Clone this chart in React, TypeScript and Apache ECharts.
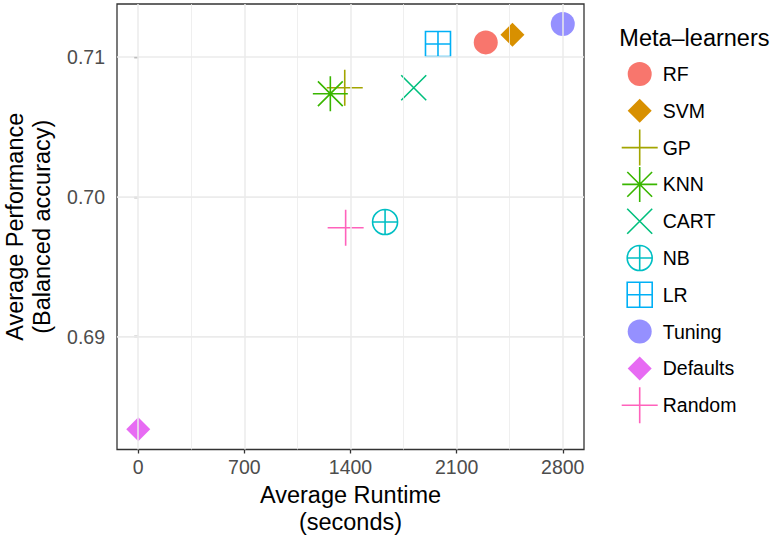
import React, { useEffect, useRef } from 'react';
import * as echarts from 'echarts';

// ---- data ----
const categories = ['RF', 'SVM', 'GP', 'KNN', 'CART', 'NB', 'LR', 'Tuning', 'Defaults', 'Random'];
const runtimes = [2292, 2468, 1362, 1267, 1817, 1628, 1977, 2800, 0, 1368];
const performances = [0.71104, 0.71159, 0.7078, 0.70737, 0.7078, 0.6982, 0.71092, 0.71235, 0.68338, 0.69779];
const xTicks = [0, 700, 1400, 2100, 2800];
const xMinor = [350, 1050, 1750, 2450];
const yTicks = [0.69, 0.7, 0.71];
const yMinor = [0.685, 0.695, 0.705];
const xRange = [-140, 2940];
const yRange = [0.681938, 0.713784];

// ---- styles ----
const colors = ['#F8766D', '#D89000', '#A3A500', '#39B600', '#00BF7D', '#00BFC4', '#00B0F6', '#9590FF', '#E76BF3', '#FF62BC'];
const P = 'M0 0M36 36';
const shapePaths: Record<string, string> = {
  circle: `${P}M30 18A12 12 0 1 1 6 18A12 12 0 1 1 30 18Z`,
  diamond: `${P}M18 6L30 18L18 30L6 18Z`,
  plus: `${P}M18 0L18 36M0 18L36 18`,
  asterisk: `${P}M18 0.5L18 35.5M0.5 18L35.5 18M5.6 5.6L30.4 30.4M30.4 5.6L5.6 30.4`,
  cross: `${P}M5.5 5.5L30.5 30.5M30.5 5.5L5.5 30.5`,
  circlePlus: `${P}M30.5 18A12.5 12.5 0 1 1 5.5 18A12.5 12.5 0 1 1 30.5 18M18 5.5L18 30.5M5.5 18L30.5 18`,
  squarePlus: `${P}M5.5 5.5L30.5 5.5L30.5 30.5L5.5 30.5ZM18 5.5L18 30.5M5.5 18L30.5 18`,
};
const shapes = ['circle', 'diamond', 'plus', 'asterisk', 'cross', 'circlePlus', 'squarePlus', 'circle', 'diamond', 'plus'];
const filled = [true, true, false, false, false, false, false, true, true, false];
const FONT = '"Liberation Sans", Arial, Helvetica, sans-serif';
const STROKE = 1.6;

function itemStyleFor(i: number) {
  return filled[i]
    ? { color: colors[i], borderColor: 'rgba(0,0,0,0)', borderWidth: STROKE, opacity: 1 }
    : { color: 'rgba(0,0,0,0)', borderColor: colors[i], borderWidth: STROKE, opacity: 1 };
}

export default function App() {
  const ref = useRef<HTMLDivElement>(null);
  useEffect(() => {
    if (!ref.current) return;
    const chart = echarts.init(ref.current, undefined, { renderer: 'svg' });
    const gridLine = (key: 'xAxis' | 'yAxis', v: number, w: number) => ({
      [key]: v,
      lineStyle: { color: '#EBEBEB', width: w, type: 'solid' },
    });
    const option: any = {
      animation: false,
      backgroundColor: '#fff',
      textStyle: { fontFamily: FONT },
      grid: {
        left: 117, top: 4, width: 467, height: 445.5,
        show: true, borderColor: '#333333', borderWidth: 1.3, backgroundColor: '#fff',
        containLabel: false, outerBoundsMode: 'none',
      },
      xAxis: {
        type: 'value', min: xRange[0], max: xRange[1],
        axisLine: { show: false },
        splitLine: { show: false },
        axisTick: { show: true, length: 4, customValues: xTicks, lineStyle: { color: '#333333', width: 1.3 } },
        axisLabel: {
          customValues: xTicks, fontSize: 19.5, color: '#4D4D4D', margin: 7, fontFamily: FONT,
          formatter: (v: number) => String(v),
        },
        name: 'Average Runtime\n(seconds)', nameLocation: 'middle', nameGap: 32,
        nameTextStyle: { fontSize: 23.5, color: '#000', lineHeight: 27, fontFamily: FONT },
      },
      yAxis: {
        type: 'value', min: yRange[0], max: yRange[1],
        axisLine: { show: false },
        splitLine: { show: false },
        axisTick: { show: true, length: 4, customValues: yTicks, lineStyle: { color: '#333333', width: 1.3 } },
        axisLabel: {
          customValues: yTicks, fontSize: 19.5, color: '#4D4D4D', margin: 12, fontFamily: FONT,
          formatter: (v: number) => v.toFixed(2),
        },
        name: 'Average Performance\n(Balanced accuracy)', nameLocation: 'middle', nameGap: 62, nameRotate: 90,
        nameTextStyle: { fontSize: 23.5, color: '#000', lineHeight: 27, fontFamily: FONT },
      },
      legend: {
        orient: 'vertical', left: 620.9, top: 55.2, padding: 0,
        itemWidth: 36, itemHeight: 36, itemGap: -0.8, selectedMode: false,
        textStyle: { fontSize: 19.5, color: '#000', fontFamily: FONT },
        data: categories.map((name, i) => ({
          name,
          icon: 'path://' + shapePaths[shapes[i]],
          itemStyle: itemStyleFor(i),
        })),
      },
      graphic: [
        {
          type: 'text', left: 619.3, top: 26,
          style: { text: 'Meta\u2013learners', fontSize: 23.5, fill: '#000', font: `23.5px ${FONT}` },
        },
      ],
      series: [
        {
          type: 'scatter', name: '__grid', data: [], z: 1, silent: true,
          markLine: {
            silent: true, symbol: ['none', 'none'], label: { show: false }, animation: false,
            emphasis: { disabled: true },
            data: [
              ...xMinor.map((v) => gridLine('xAxis', v, 0.8)),
              ...yMinor.map((v) => gridLine('yAxis', v, 0.8)),
              ...xTicks.map((v) => gridLine('xAxis', v, 1.5)),
              ...yTicks.map((v) => gridLine('yAxis', v, 1.5)),
            ],
          },
        },
        ...categories.map((name, i) => ({
          type: 'scatter', name, z: 3,
          data: [[runtimes[i], performances[i]]],
          symbol: 'path://' + shapePaths[shapes[i]],
          symbolSize: 36,
          itemStyle: itemStyleFor(i),
          emphasis: { disabled: true },
        })),
      ],
    };
    chart.setOption(option);
    return () => chart.dispose();
  }, []);
  return <div ref={ref} style={{ width: 774, height: 536, position: 'absolute', left: 0, top: 0 }} />;
}
